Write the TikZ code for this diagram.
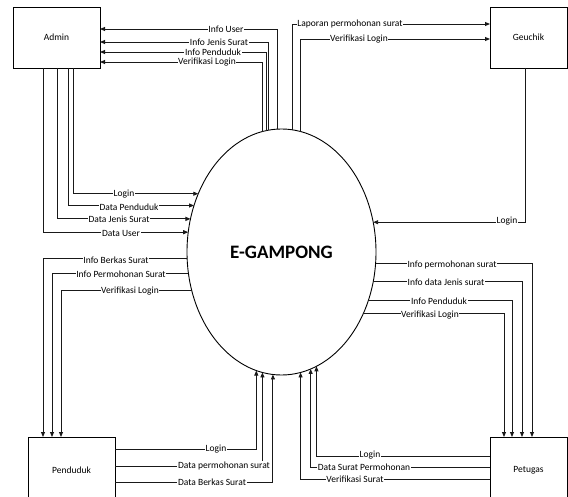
\documentclass[tikz,border=0pt]{standalone}
\usepackage{fontspec}
\setmainfont{Carlito}
\usetikzlibrary{shapes.geometric,arrows.meta}
\begin{document}
\begin{tikzpicture}[x=1pt,y=-1pt,
  entity/.style={draw, line width=0.9pt, rectangle, inner sep=0pt, outer sep=0pt,
    font=\fontsize{9.5}{10}\selectfont},
  flow/.style={draw, line width=0.9pt, black!90, -{Triangle[length=5pt,width=4pt]}},
  lbl/.style={fill=white, inner sep=0.6pt, font=\fontsize{9.5}{10}\selectfont}]

\path[use as bounding box, clip] (0,0) rectangle (568,497);

% external entities
\node[entity, minimum width=87pt, minimum height=61pt] (admin) at (56.5,37.5) {Admin};
\node[entity, minimum width=77pt, minimum height=61pt] (geuchik) at (528.5,37.5) {Geuchik};
\node[entity, minimum width=87pt, minimum height=66pt] (pend) at (71.5,470) {Penduduk};
\node[entity, minimum width=77pt, minimum height=66pt] (pet) at (528.5,470) {Petugas};

% the system process
\node[ellipse, draw, line width=0.9pt, inner sep=0pt, outer sep=0pt,
  minimum width=189pt, minimum height=246pt,
  font=\fontsize{19}{22}\selectfont\bfseries] (eg) at (281.5,252) {E-GAMPONG};

% system -> Admin
\draw[flow] (eg.92.56) |- (admin.east |- 0,29);
\draw[flow] (eg.96.33) |- (admin.east |- 0,42);
\draw[flow] (eg.97.76) |- (admin.east |- 0,52);
\draw[flow] (eg.99.20) |- (admin.east |- 0,62);
\node[lbl] (l1) at (226,29) {Info User};
\node[lbl] (l2) at (219,42) {Info Jenis Surat};
\node[lbl] (l3) at (213,52) {Info Penduduk};
\node[lbl] (l4) at (207,62) {Verifikasi Login};

% Admin -> system
\draw[flow] (admin.south -| 73,0) |- (eg.145.15);
\draw[flow] (admin.south -| 68,0) |- (eg.152.9);
\draw[flow] (admin.south -| 57,0) |- (eg.160.07);
\draw[flow] (admin.south -| 43,0) |- (eg.168.5);
\node[lbl] (l5) at (124,194) {Login};
\node[lbl] (l6) at (129,207) {Data Penduduk};
\node[lbl] (l7) at (119,219) {Data Jenis Surat};
\node[lbl] (l8) at (121,233) {Data User};

% system <-> Geuchik
\draw[flow] (eg.85.56) |- (geuchik.west |- 0,24);
\draw[flow] (eg.81.28) |- (geuchik.west |- 0,39);
\draw[flow] (geuchik.south -| 525,0) |- (eg.18.72);
\node[lbl] (l9) at (350,24) {Laporan permohonan surat};
\node[lbl] (l10) at (359,39) {Verifikasi Login};
\node[lbl] (l11) at (507,221) {Login};

% system -> Penduduk
\draw[flow] (eg.184.85) -| (pend.north -| 43,0);
\draw[flow] (eg.193.31) -| (pend.north -| 52,0);
\draw[flow] (eg.203.52) -| (pend.north -| 61,0);
\node[lbl] (l12) at (116,260) {Info Berkas Surat};
\node[lbl] (l13) at (121,274) {Info Permohonan Surat};
\node[lbl] (l14) at (130,291) {Verifikasi Login};

% Penduduk -> system
\draw[flow] (pend.east |- 0,449) -| (eg.258.35);
\draw[flow] (pend.east |- 0,466) -| (eg.261.76);
\draw[flow] (pend.east |- 0,482) -| (eg.266.5);
\node[lbl] (l15) at (216,449) {Login};
\node[lbl] (l16) at (224,466) {Data permohonan surat};
\node[lbl] (l17) at (212,482) {Data Berkas Surat};

% system -> Petugas
\draw[flow] (eg.-7.88) -| (pet.north -| 532,0);
\draw[flow] (eg.-18.13) -| (pet.north -| 522,0);
\draw[flow] (eg.-29.48) -| (pet.north -| 512,0);
\draw[flow] (eg.-37.81) -| (pet.north -| 504,0);
\node[lbl] (l18) at (452,265) {Info permohonan surat};
\node[lbl] (l19) at (446,282) {Info data Jenis surat};
\node[lbl] (l20) at (439,301) {Info Penduduk};
\node[lbl] (l21) at (430,315) {Verifikasi Login};

% Petugas -> system
\draw[flow] (pet.west |- 0,456) -| (eg.287.83);
\draw[flow] (pet.west |- 0,467) -| (eg.284.17);
\draw[flow] (pet.west |- 0,479) -| (eg.279.69);
\node[lbl] (l22) at (370,455) {Login};
\node[lbl] (l23) at (364,467) {Data Surat Permohonan};
\node[lbl] (l24) at (355,479) {Verifikasi Surat};

\end{tikzpicture}
\end{document}
